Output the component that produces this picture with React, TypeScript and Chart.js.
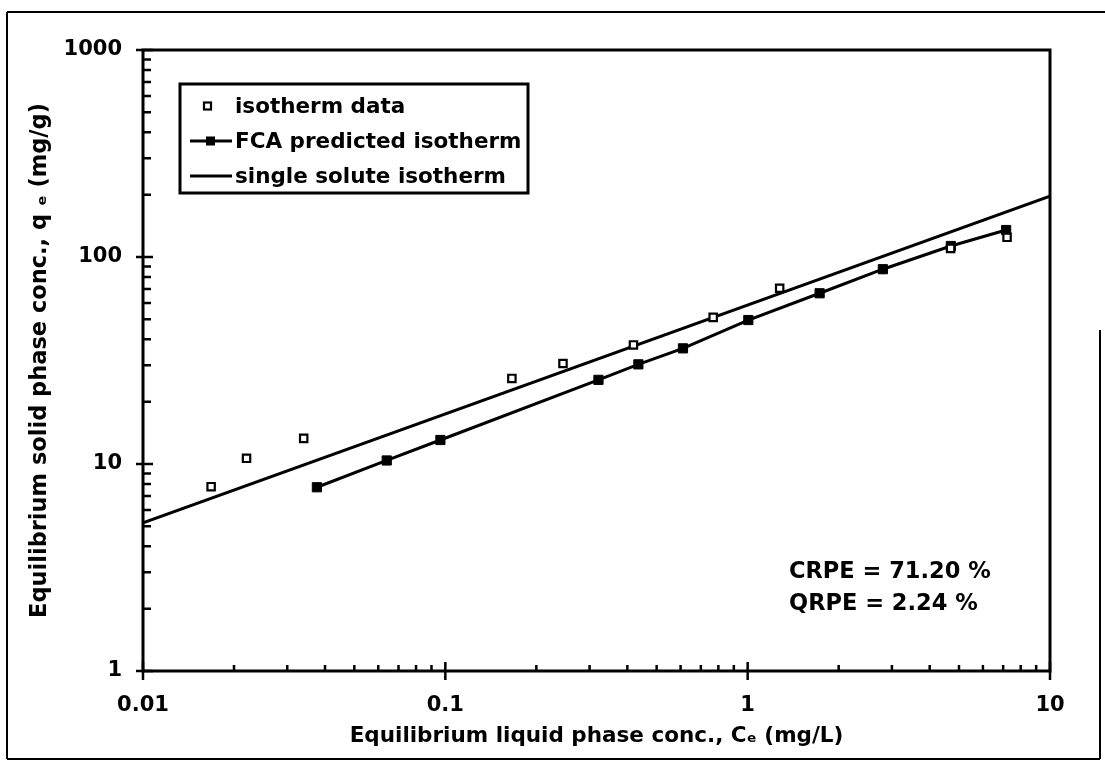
import React, { useEffect, useRef } from 'react';
import { Chart, registerables } from 'chart.js';

Chart.register(...registerables);

// ---- data ----
const isothermC = [0.0168, 0.022, 0.034, 0.166, 0.245, 0.419, 0.769, 1.276, 4.69, 7.21];
const isothermQ = [7.77, 10.65, 13.3, 25.9, 30.6, 37.6, 51.1, 70.6, 110, 124.5];

const fcaC = [0.0376, 0.064, 0.0963, 0.321, 0.435, 0.611, 1.005, 1.73, 2.8, 4.7, 7.16];
const fcaQ = [7.72, 10.4, 13.06, 25.5, 30.3, 36.2, 49.6, 66.8, 87.3, 113, 135];

const singleC = [0.01, 10];
const singleQ = [5.2, 197];

const seriesLabels = ['isotherm data', 'FCA predicted isotherm', 'single solute isotherm'];

const xMajor = [0.01, 0.1, 1, 10];
const xTickLabels = ['0.01', '0.1', '1', '10'];
const yMajor = [1, 10, 100, 1000];
const yTickLabels = ['1', '10', '100', '1000'];

const xTitle = 'Equilibrium liquid phase conc., Cₑ (mg/L)';
const yTitle = 'Equilibrium solid phase conc., q ₑ (mg/g)';

const annotationLines = ['CRPE = 71.20 %', 'QRPE = 2.24 %'];

const FONT = "'DejaVu Sans', 'Liberation Sans', sans-serif";

function buildTicks(majors: number[]) {
  const out: number[] = [];
  for (let i = 0; i < majors.length; i++) {
    out.push(majors[i]);
    if (i < majors.length - 1) {
      for (let m = 2; m <= 9; m++) out.push(parseFloat((majors[i] * m).toPrecision(6)));
    }
  }
  return out;
}

function labelFor(value: number, majors: number[], labels: string[]) {
  const i = majors.findIndex((m) => Math.abs(m - value) / m < 1e-6);
  return i >= 0 ? labels[i] : '';
}

function isMajor(value: number, majors: number[]) {
  return majors.some((m) => Math.abs(m - value) / m < 1e-6);
}

const overlay = {
  id: 'overlay',
  afterDraw(chart: any) {
    const ctx: CanvasRenderingContext2D = chart.ctx;
    const { left, right, top, bottom } = chart.chartArea;
    const xs = chart.scales.x;
    const ys = chart.scales.y;
    ctx.save();
    ctx.strokeStyle = '#000';
    ctx.fillStyle = '#000';
    ctx.lineCap = 'butt';

    // plot frame
    ctx.lineWidth = 3;
    ctx.strokeRect(left, top, right - left, bottom - top);

    // tick marks
    ctx.lineWidth = 2.5;
    ctx.beginPath();
    xs.ticks.forEach((t: any) => {
      const px = xs.getPixelForValue(t.value);
      if (t.major) {
        ctx.moveTo(px, bottom - 9);
        ctx.lineTo(px, bottom + 9);
      } else {
        ctx.moveTo(px, bottom);
        ctx.lineTo(px, bottom - 6);
      }
    });
    ys.ticks.forEach((t: any) => {
      const py = ys.getPixelForValue(t.value);
      if (t.major) {
        ctx.moveTo(left - 7, py);
        ctx.lineTo(left + 10, py);
      } else {
        ctx.moveTo(left, py);
        ctx.lineTo(left + 8, py);
      }
    });
    ctx.stroke();

    // legend box
    const ds = chart.data.datasets;
    ctx.lineWidth = 3;
    ctx.strokeRect(180, 84, 348, 109);
    ctx.font = `bold 21.5px ${FONT}`;
    ctx.textBaseline = 'middle';
    ctx.textAlign = 'left';
    const rows = [106, 141, 176];
    // row 1: open square
    ctx.lineWidth = 2.2;
    ctx.fillStyle = '#fff';
    ctx.fillRect(204, rows[0] - 3.5, 7, 7);
    ctx.strokeRect(204, rows[0] - 3.5, 7, 7);
    ctx.fillStyle = '#000';
    ctx.fillText(ds[0].label, 235, rows[0] + 1);
    // row 2: line + filled square
    ctx.lineWidth = 3;
    ctx.beginPath();
    ctx.moveTo(190, rows[1]);
    ctx.lineTo(232, rows[1]);
    ctx.stroke();
    ctx.fillRect(206, rows[1] - 4.5, 9, 9);
    ctx.fillText(ds[1].label, 235, rows[1] + 1);
    // row 3: line
    ctx.beginPath();
    ctx.moveTo(190, rows[2]);
    ctx.lineTo(232, rows[2]);
    ctx.stroke();
    ctx.fillText(ds[2].label, 235, rows[2] + 1);

    // annotation
    ctx.textBaseline = 'alphabetic';
    ctx.font = `bold 22.5px ${FONT}`;
    ctx.fillText(annotationLines[0], 789, 578);
    ctx.fillText(annotationLines[1], 789, 610);

    // outer frame of the figure
    ctx.lineWidth = 2;
    ctx.beginPath();
    ctx.moveTo(7, 759);
    ctx.lineTo(7, 12);
    ctx.moveTo(7, 12);
    ctx.lineTo(1105, 12);
    ctx.moveTo(7, 759);
    ctx.lineTo(1100, 759);
    ctx.moveTo(1100, 330);
    ctx.lineTo(1100, 759);
    ctx.stroke();

    ctx.restore();
  },
};

export default function App() {
  const ref = useRef<HTMLCanvasElement>(null);

  useEffect(() => {
    const canvas = ref.current!;
    const tickFont = { family: FONT, weight: 'bold' as const, size: 21 };
    const xTitleFont = { family: FONT, weight: 'bold' as const, size: 21.5 };
    const yTitleFont = { family: FONT, weight: 'bold' as const, size: 22.5 };

    const chart = new Chart(canvas, {
      type: 'scatter',
      data: {
        datasets: [
          {
            label: seriesLabels[0],
            data: isothermC.map((c, i) => ({ x: c, y: isothermQ[i] })),
            showLine: false,
            pointStyle: 'rect',
            pointRadius: 5.2,
            pointBackgroundColor: '#fff',
            pointBorderColor: '#000',
            pointBorderWidth: 2.2,
          },
          {
            label: seriesLabels[1],
            data: fcaC.map((c, i) => ({ x: c, y: fcaQ[i] })),
            showLine: true,
            borderColor: '#000',
            borderWidth: 3,
            pointStyle: 'rect',
            pointRadius: 6.5,
            pointBackgroundColor: '#000',
            pointBorderColor: '#000',
            pointBorderWidth: 1,
          },
          {
            label: seriesLabels[2],
            data: singleC.map((c, i) => ({ x: c, y: singleQ[i] })),
            showLine: true,
            borderColor: '#000',
            borderWidth: 3,
            pointRadius: 0,
          },
        ],
      },
      options: {
        responsive: false,
        animation: false,
        devicePixelRatio: 1,
        events: [],
        layout: { padding: { left: 0, top: 50, right: 55, bottom: 0 } },
        plugins: {
          legend: { display: false },
          tooltip: { enabled: false },
        },
        scales: {
          x: {
            type: 'logarithmic',
            position: 'bottom',
            min: 0.01,
            max: 10,
            grid: { display: false, drawTicks: false },
            border: { display: false },
            afterBuildTicks: (scale: any) => {
              scale.ticks = buildTicks(xMajor).map((v) => ({ value: v, major: isMajor(v, xMajor) }));
            },
            afterFit: (scale: any) => {
              scale.height = 91;
            },
            ticks: {
              autoSkip: false,
              maxRotation: 0,
              minRotation: 0,
              padding: 22,
              color: '#000',
              font: tickFont,
              callback: (value: any) => labelFor(Number(value), xMajor, xTickLabels),
            },
            title: {
              display: true,
              text: xTitle,
              color: '#000',
              font: xTitleFont,
              padding: { top: 0, bottom: 13 },
            },
          },
          y: {
            type: 'logarithmic',
            position: 'left',
            min: 1,
            max: 1000,
            grid: { display: false, drawTicks: false },
            border: { display: false },
            afterBuildTicks: (scale: any) => {
              scale.ticks = buildTicks(yMajor).map((v) => ({ value: v, major: isMajor(v, yMajor) }));
            },
            afterFit: (scale: any) => {
              scale.width = 143;
            },
            ticks: {
              autoSkip: false,
              padding: 21,
              color: '#000',
              font: tickFont,
              callback: (value: any) => labelFor(Number(value), yMajor, yTickLabels),
            },
            title: {
              display: true,
              text: yTitle,
              color: '#000',
              font: yTitleFont,
              padding: { top: 27, bottom: 0 },
            },
          },
        },
      },
      plugins: [overlay],
    });

    return () => chart.destroy();
  }, []);

  return (
    <div style={{ position: 'absolute', left: 0, top: 0, width: 1105, height: 762, background: '#fff' }}>
      <canvas ref={ref} width={1105} height={762} style={{ display: 'block', width: 1105, height: 762 }} />
    </div>
  );
}
